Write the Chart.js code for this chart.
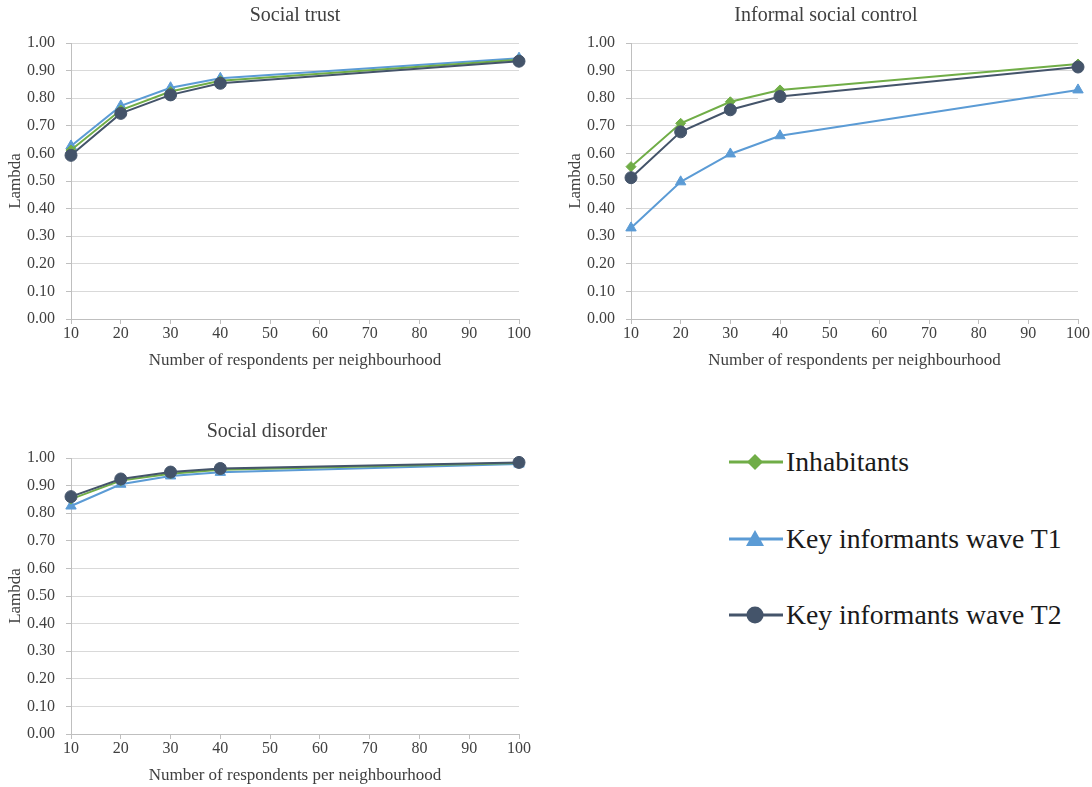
<!DOCTYPE html>
<html>
<head>
<meta charset="utf-8">
<script src="https://cdn.jsdelivr.net/npm/chart.js@4.4.1/dist/chart.umd.min.js"></script>
<style>
  html, body { margin: 0; padding: 0; background: #fff; overflow: hidden; }
  body { width: 1092px; height: 787px; position: relative; font-family: "Liberation Serif", "Times New Roman", serif; }
  .box { position: absolute; }
  .ttl { position: absolute; font-size: 20px; color: #404040; white-space: nowrap; transform: translate(-50%, -50%); }
  .leg { position: absolute; left: 729px; display: flex; align-items: center; font-size: 27.7px; color: #1a1a1a; white-space: nowrap; transform: translateY(-50%); }
  .leg svg { display: block; margin-right: 3px; }
</style>
</head>
<body>
<div class="box" style="left:0;top:0;width:545px;height:372px;"><canvas id="c1"></canvas></div>
<div class="box" style="left:560px;top:0;width:532px;height:372px;"><canvas id="c2"></canvas></div>
<div class="box" style="left:0;top:415px;width:545px;height:372px;"><canvas id="c3"></canvas></div>
<div class="ttl" style="left:295px;top:14px;">Social trust</div>
<div class="ttl" style="left:826px;top:14px;">Informal social control</div>
<div class="ttl" style="left:267px;top:430px;">Social disorder</div>

<div class="leg" style="top:462px;">
  <svg width="54" height="20"><line x1="0" y1="10" x2="54" y2="10" stroke="#70ad47" stroke-width="3"/><polygon points="26,2 34,10 26,18 18,10" fill="#70ad47"/></svg>Inhabitants
</div>
<div class="leg" style="top:539px;">
  <svg width="54" height="20"><line x1="0" y1="10" x2="54" y2="10" stroke="#5b9bd5" stroke-width="3"/><polygon points="26,1 35,17 17,17" fill="#5b9bd5"/></svg>Key informants wave T1
</div>
<div class="leg" style="top:615px;">
  <svg width="54" height="20"><line x1="0" y1="10" x2="54" y2="10" stroke="#44546a" stroke-width="3"/><circle cx="26" cy="10" r="8.5" fill="#44546a"/></svg>Key informants wave T2
</div>

<script>
// Data
const respondents = [10, 20, 30, 40, 100];
const xTicks = [10, 20, 30, 40, 50, 60, 70, 80, 90, 100];
const seriesNames = ["Inhabitants", "Key informants wave T1", "Key informants wave T2"];

const trustInhabitants = [0.612, 0.757, 0.824, 0.863, 0.939];
const trustT1 = [0.627, 0.772, 0.838, 0.872, 0.945];
const trustT2 = [0.593, 0.745, 0.812, 0.854, 0.934];

const controlInhabitants = [0.552, 0.709, 0.787, 0.830, 0.924];
const controlT1 = [0.330, 0.497, 0.598, 0.664, 0.830];
const controlT2 = [0.512, 0.678, 0.758, 0.806, 0.913];

const disorderInhabitants = [0.851, 0.918, 0.943, 0.957, 0.982];
const disorderT1 = [0.826, 0.905, 0.935, 0.948, 0.978];
const disorderT2 = [0.860, 0.924, 0.949, 0.962, 0.984];

const COLORS = ["#70ad47", "#5b9bd5", "#44546a"];
const STYLES = ["rectRot", "triangle", "circle"];
const RADII = [5, 6, 6];
const ORDERS = [1, 2, 0];
const SERIF = "'Liberation Serif', 'Times New Roman', serif";

Chart.defaults.font.family = SERIF;
Chart.defaults.color = "#404040";

function pts(vals) { return respondents.map((x, i) => ({ x: x, y: vals[i] })); }

function makeChart(id, series, rightPad) {
  const datasets = series.map((vals, i) => ({
    label: seriesNames[i],
    data: pts(vals),
    borderColor: COLORS[i],
    backgroundColor: COLORS[i],
    pointBackgroundColor: COLORS[i],
    pointBorderColor: COLORS[i],
    pointStyle: STYLES[i],
    pointRadius: RADII[i],
    pointBorderWidth: 1,
    borderWidth: 2,
    tension: 0,
    clip: false,
    order: ORDERS[i]
  }));
  return new Chart(document.getElementById(id), {
    type: "line",
    data: { datasets: datasets },
    options: {
      responsive: true,
      maintainAspectRatio: false,
      animation: false,
      layout: { padding: { top: 43, right: rightPad, bottom: 0, left: 0 } },
      plugins: { legend: { display: false }, tooltip: { enabled: false }, title: { display: false } },
      scales: {
        x: {
          type: "linear",
          min: 10, max: 100,
          afterBuildTicks: (s) => { s.ticks = xTicks.map(v => ({ value: v })); },
          afterFit: (s) => { s.height = 53; },
          grid: { drawOnChartArea: false, drawTicks: true, tickLength: 5, color: "#bfbfbf", tickColor: "#bfbfbf" },
          border: { color: "#bfbfbf", width: 1 },
          ticks: { font: { family: SERIF, size: 16 }, color: "#404040", padding: 0, maxRotation: 0, autoSkip: false },
          title: { display: true, text: "Number of respondents per neighbourhood", font: { family: SERIF, size: 17 }, color: "#404040", padding: { top: 0, bottom: 1 } }
        },
        y: {
          min: 0, max: 1,
          afterBuildTicks: (s) => { const t = []; for (let k = 0; k <= 10; k++) t.push({ value: k / 10 }); s.ticks = t; },
          afterFit: (s) => { s.width = 71; },
          grid: { color: "#d9d9d9", tickColor: "#bfbfbf", tickLength: 5, drawTicks: true },
          border: { color: "#bfbfbf", width: 1 },
          ticks: { font: { family: SERIF, size: 16 }, color: "#404040", padding: 11, callback: (v) => Number(v).toFixed(2) },
          title: { display: true, text: "Lambda", font: { family: SERIF, size: 17 }, color: "#404040", padding: { top: 5, bottom: 0 } }
        }
      }
    }
  });
}

makeChart("c1", [trustInhabitants, trustT1, trustT2], 26);
makeChart("c2", [controlInhabitants, controlT1, controlT2], 14);
makeChart("c3", [disorderInhabitants, disorderT1, disorderT2], 26);
</script>
</body>
</html>
